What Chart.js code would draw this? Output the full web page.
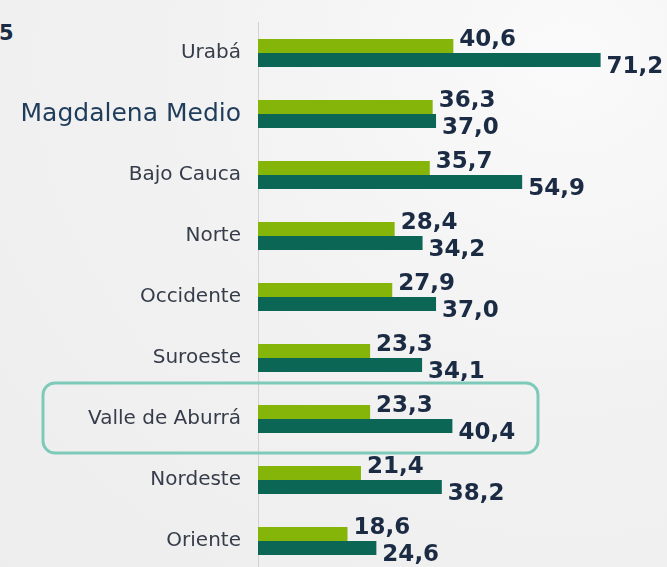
<!DOCTYPE html>
<html lang="es">
  <head>
    <meta charset="UTF-8" />
    <title>Subregiones</title>
    <script src="https://cdn.jsdelivr.net/npm/chart.js@4.4.0/dist/chart.umd.min.js"></script>
    <style>
      html,
      body {
        margin: 0;
        padding: 0;
        overflow: hidden;
      }
      body {
        width: 667px;
        height: 567px;
        background: radial-gradient(ellipse at 85% 10%, #fafafa 0%, #f2f2f2 45%, #ededed 100%);
        position: relative;
        font-family: "DejaVu Sans", sans-serif;
      }
      #titulo {
        position: absolute;
        left: -1px;
        top: 21px;
        font-weight: bold;
        font-size: 21px;
        color: #1b2b44;
      }
      #contenedor {
        position: absolute;
        left: 0;
        top: 0;
        width: 667px;
        height: 575px;
      }
    </style>
  </head>
  <body>
    <div id="titulo">5</div>
    <div id="contenedor"><canvas id="grafico"></canvas></div>
    <script>
      const categorias = [
        "Urabá",
        "Magdalena Medio",
        "Bajo Cauca",
        "Norte",
        "Occidente",
        "Suroeste",
        "Valle de Aburrá",
        "Nordeste",
        "Oriente",
      ];
      const serieClara = [40.6, 36.3, 35.7, 28.4, 27.9, 23.3, 23.3, 21.4, 18.6];
      const serieOscura = [71.2, 37.0, 54.9, 34.2, 37.0, 34.1, 40.4, 38.2, 24.6];
      const destacada = "Valle de Aburrá";

      const verdeClaro = "#86b50a";
      const verdeOscuro = "#0b6656";
      const colorTexto = "#1b2b44";

      // etiquetas de valor al final de cada barra
      const etiquetas = {
        id: "etiquetas",
        afterDatasetsDraw(chart) {
          const ctx = chart.ctx;
          ctx.save();
          ctx.font = "bold 23px 'DejaVu Sans'";
          ctx.fillStyle = colorTexto;
          ctx.textAlign = "left";
          ctx.textBaseline = "alphabetic";
          chart.data.datasets.forEach((ds, i) => {
            const meta = chart.getDatasetMeta(i);
            meta.data.forEach((bar, j) => {
              const txt = ds.data[j].toFixed(1).replace(".", ",");
              const dy = i === 0 ? 0 : 13;
              ctx.fillText(txt, bar.x + 6, bar.y + dy);
            });
          });
          ctx.restore();
        },
      };

      // recuadro de la subregión destacada
      const recuadro = {
        id: "recuadro",
        afterDraw(chart) {
          const y = chart.scales.y.getPixelForValue(categorias.indexOf(destacada));
          const ctx = chart.ctx;
          ctx.save();
          ctx.strokeStyle = "#7ecaba";
          ctx.lineWidth = 3;
          ctx.beginPath();
          ctx.roundRect(43, y - 36, 495, 70, 12);
          ctx.stroke();
          ctx.restore();
        },
      };

      const ctx = document.getElementById("grafico").getContext("2d");
      const grafico = new Chart(ctx, {
        type: "bar",
        data: {
          labels: categorias,
          datasets: [
            {
              label: "Serie 1",
              data: serieClara,
              backgroundColor: verdeClaro,
              categoryPercentage: 0.46,
              barPercentage: 1,
            },
            {
              label: "Serie 2",
              data: serieOscura,
              backgroundColor: verdeOscuro,
              categoryPercentage: 0.46,
              barPercentage: 1,
            },
          ],
        },
        options: {
          indexAxis: "y",
          responsive: true,
          maintainAspectRatio: false,
          animation: false,
          layout: { padding: { top: 22.5, bottom: 3.5, left: 0, right: 0 } },
          plugins: {
            legend: { display: false },
            tooltip: { enabled: false },
          },
          scales: {
            x: {
              display: false,
              min: 0,
              max: 85,
            },
            y: {
              afterFit(scale) {
                scale.width = 258;
                scale.paddingTop = 0;
                scale.paddingBottom = 0;
              },
              grid: { display: false, drawTicks: false },
              border: { display: true, color: "#d2d2d2", width: 1 },
              ticks: {
                padding: 17,
                color: (c) => (c.index === 1 ? "#1f3d5a" : "#363d4a"),
                font: (c) => ({
                  family: "'DejaVu Sans'",
                  size: c.index === 1 ? 25 : 20,
                }),
              },
            },
          },
        },
        plugins: [etiquetas, recuadro],
      });
    </script>
  </body>
</html>
